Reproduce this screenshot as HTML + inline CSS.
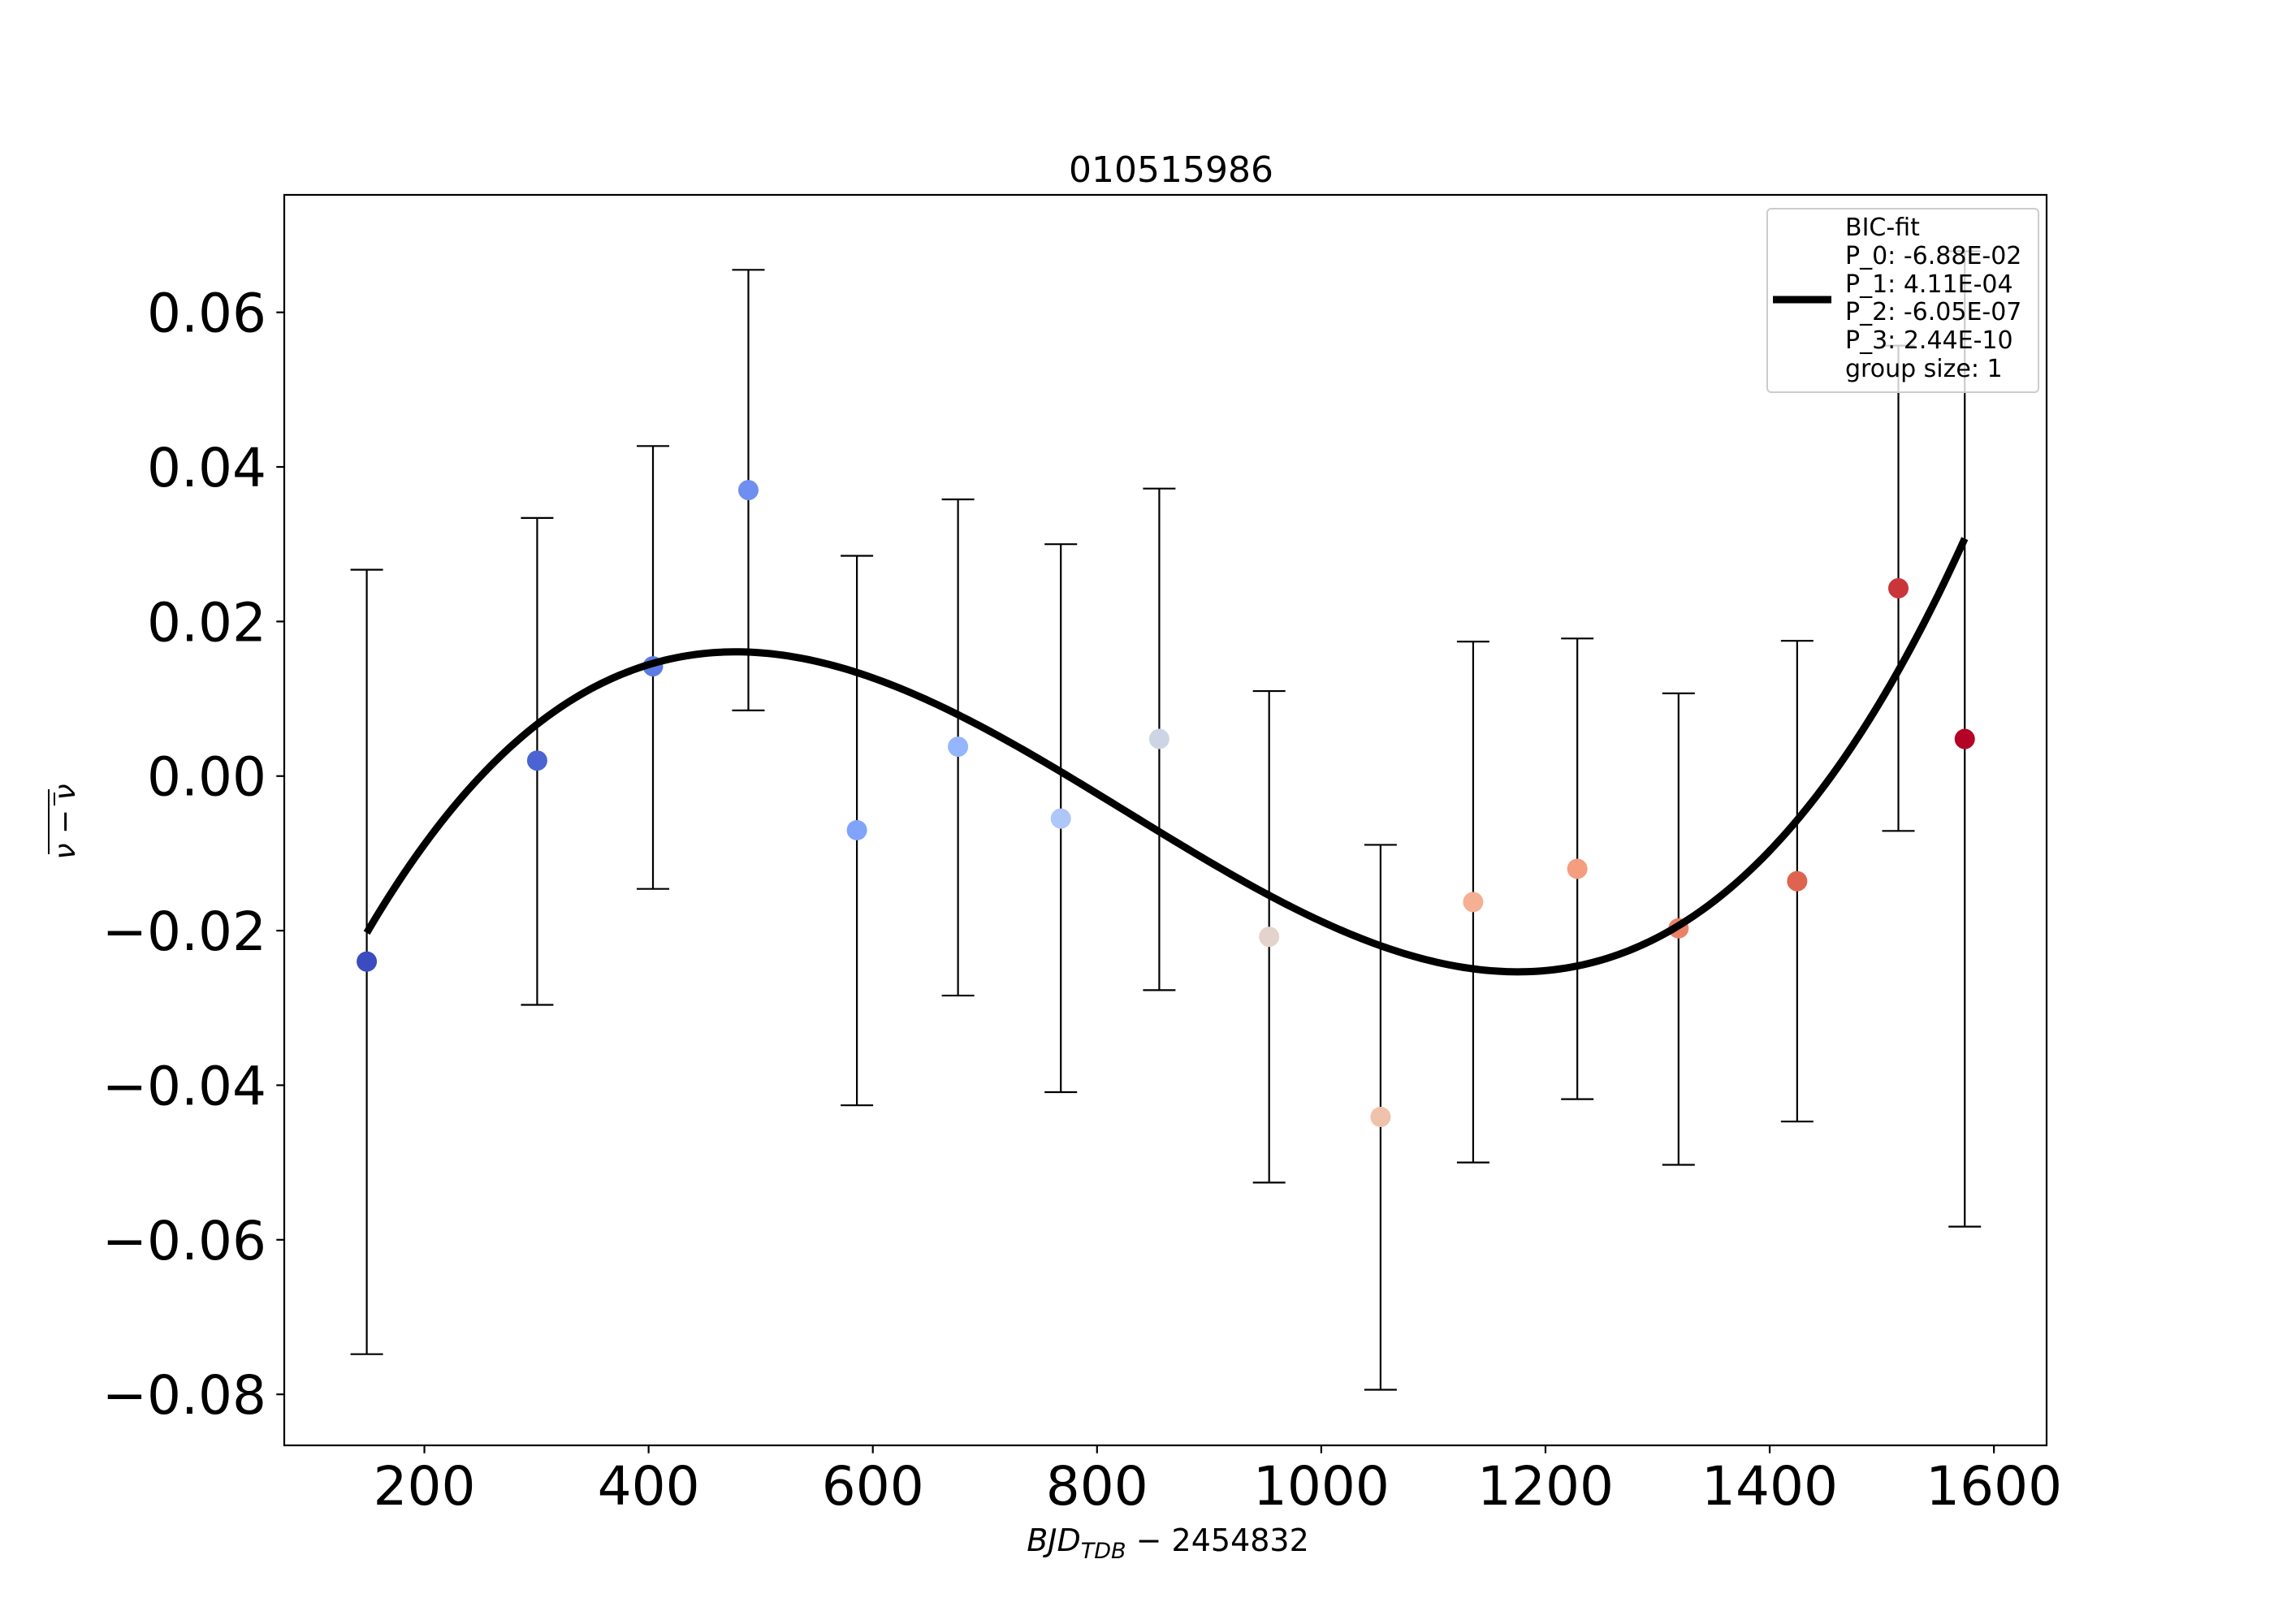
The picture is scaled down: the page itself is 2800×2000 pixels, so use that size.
<!DOCTYPE html>
<html><head><meta charset="utf-8"><style>
html,body{margin:0;padding:0;background:#fff;}
svg{display:block;font-family:"DejaVu Sans","Liberation Sans",sans-serif;}
</style></head><body>
<svg id="chart" width="2800" height="2000" viewBox="0 0 2800 2000" xmlns="http://www.w3.org/2000/svg">
<rect x="0" y="0" width="2800" height="2000" fill="#fff"/>
<text x="1442" y="224" font-size="44" text-anchor="middle">010515986</text>
<g id="plot"></g>
<rect x="350" y="240" width="2170" height="1540" fill="none" stroke="#000" stroke-width="2.2"/>
<g id="ticks"></g>
<text x="1438" y="1910" font-size="38" text-anchor="middle"><tspan font-style="italic">BJD</tspan><tspan font-style="italic" font-size="27" dy="9">TDB</tspan><tspan dy="-9"> − 2454832</tspan></text>
<g transform="translate(92,1012) rotate(-90)">
<text x="0" y="0" font-size="36" text-anchor="middle" font-style="italic">ν − ν</text>
<line x1="-40" y1="-32" x2="40" y2="-32" stroke="#000" stroke-width="2"/>
<line x1="20" y1="-25" x2="36" y2="-25" stroke="#000" stroke-width="2"/>
</g>
<g>
<rect x="2176" y="257" width="334" height="226" rx="5" fill="#fff" fill-opacity="0.8" stroke="#ccc" stroke-width="2"/>
<line x1="2183" y1="369" x2="2255" y2="369" stroke="#000" stroke-width="9"/>
<g font-size="30">
<text x="2272" y="290">BIC-fit</text>
<text x="2272" y="325">P_0: -6.88E-02</text>
<text x="2272" y="360">P_1: 4.11E-04</text>
<text x="2272" y="394">P_2: -6.05E-07</text>
<text x="2272" y="429">P_3: 2.44E-10</text>
<text x="2272" y="464">group size: 1</text>
</g>
</g>
</svg>
<script>
const xVals=[148.6,300.6,403.9,489,585.8,676,767.7,855.5,953.5,1052.9,1135.5,1228.4,1318.7,1424.5,1514.8,1574];
const yVals=[-0.024,0.002,0.0142,0.037,-0.007,0.0038,-0.0055,0.0048,-0.0208,-0.0441,-0.0163,-0.0120,-0.0197,-0.0136,0.0243,0.0048];
const errHi=[0.0267,0.0334,0.0427,0.0655,0.0285,0.0358,0.030,0.0372,0.011,-0.0089,0.0174,0.0178,0.0107,0.0175,0.0557,0.0679];
const errLo=[-0.0748,-0.0296,-0.0146,0.0085,-0.0426,-0.0284,-0.0409,-0.0277,-0.0526,-0.0794,-0.050,-0.0418,-0.0503,-0.0447,-0.0071,-0.0583];
const fitCoef=[-6.88e-2,4.11e-4,-6.05e-7,2.44e-10];
const xTicks=[200,400,600,800,1000,1200,1400,1600];
const yTicks=[0.06,0.04,0.02,0.00,-0.02,-0.04,-0.06,-0.08];
const xMin=75,xMax=1647,yMin=-0.0866,yMax=0.0752;
const L=350,R=2520,T=240,B=1780;
const sx=v=>L+(v-xMin)/(xMax-xMin)*(R-L);
const sy=v=>B-(v-yMin)/(yMax-yMin)*(B-T);
const NS="http://www.w3.org/2000/svg";
const plot=document.getElementById('plot'),ticks=document.getElementById('ticks');
function mk(tag,attrs,parent){const e=document.createElementNS(NS,tag);for(const k in attrs)e.setAttribute(k,attrs[k]);parent.appendChild(e);return e;}
const cw=[[0,[59,76,192]],[0.125,[90,120,226]],[0.25,[124,159,249]],[0.375,[162,193,255]],[0.5,[221,220,220]],[0.625,[245,186,159]],[0.75,[244,152,122]],[0.875,[222,96,76]],[1,[180,4,38]]];
function coolwarm(t){for(let i=0;i<cw.length-1;i++){if(t<=cw[i+1][0]){const f=(t-cw[i][0])/(cw[i+1][0]-cw[i][0]);const a=cw[i][1],b=cw[i+1][1];return 'rgb('+a.map((c,j)=>Math.round(c+(b[j]-c)*f)).join(',')+')';}}return 'rgb(180,4,38)';}
xVals.forEach((x,i)=>{
  const g=mk('g',{},plot);
  
  
  const X=sx(x);
  mk('line',{x1:X,x2:X,y1:sy(errHi[i]),y2:sy(errLo[i]),stroke:'#000','stroke-width':2.2},g);
  mk('line',{x1:X-20,x2:X+20,y1:sy(errHi[i]),y2:sy(errHi[i]),stroke:'#000','stroke-width':2.2},g);
  mk('line',{x1:X-20,x2:X+20,y1:sy(errLo[i]),y2:sy(errLo[i]),stroke:'#000','stroke-width':2.2},g);
});
xVals.forEach((x,i)=>{
  const c=mk('circle',{cx:sx(x),cy:sy(yVals[i]),r:12.5,fill:coolwarm(i/(xVals.length-1))},plot);
  
  
});
let d='';
const x0=xVals[0],x1=xVals[xVals.length-1];
for(let k=0;k<=300;k++){const x=x0+(x1-x0)*k/300;const y=fitCoef[0]+fitCoef[1]*x+fitCoef[2]*x*x+fitCoef[3]*x*x*x;d+=(k?'L':'M')+sx(x).toFixed(2)+','+sy(y).toFixed(2);}
const fit=mk('path',{d:d,fill:'none',stroke:'#000','stroke-width':9},plot);


xTicks.forEach(v=>{
  const X=sx(v);
  const t=mk('line',{x1:X,x2:X,y1:B,y2:B+9.7,stroke:'#000','stroke-width':2.2},ticks);
  
  
  const l=mk('text',{x:X,y:1853,'font-size':66,'text-anchor':'middle'},ticks);
  
  
  l.textContent=String(v);
});
yTicks.forEach(v=>{
  const Y=sy(v);
  const t=mk('line',{x1:L-9.7,x2:L,y1:Y,y2:Y,stroke:'#000','stroke-width':2.2},ticks);
  
  
  const l=mk('text',{x:328,y:Y+24,'font-size':66,'text-anchor':'end'},ticks);
  
  
  l.textContent=(v<0?'\u2212':'')+Math.abs(v).toFixed(2);
});
</script>
</body></html>
